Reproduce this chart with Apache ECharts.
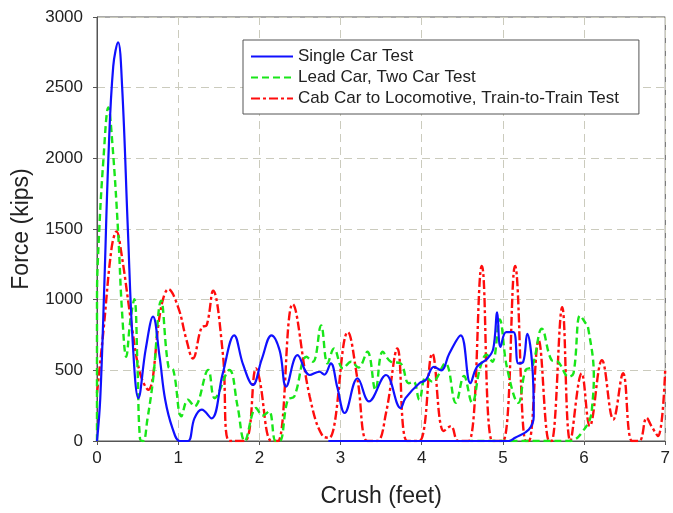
<!DOCTYPE html>
<html>
<head>
<meta charset="utf-8">
<script src="https://cdn.jsdelivr.net/npm/echarts@6/dist/echarts.min.js"></script>
<style>
  html, body { margin: 0; padding: 0; background: #fff; }
  #chart { width: 673px; height: 513px; }
</style>
</head>
<body>
<div id="chart"></div>
<script>
// crush (feet), force (kips)
const singleCar = [
  [0, 0], [0.04, 300], [0.09, 1100], [0.14, 2000], [0.2, 2650], [0.26, 2820], [0.31, 2500],
  [0.38, 1500], [0.44, 700], [0.51, 303], [0.6, 650], [0.69, 880], [0.77, 600], [0.84, 292],
  [0.93, 90], [1.02, 0], [1.12, 0], [1.2, 160], [1.29, 222], [1.41, 160], [1.55, 480],
  [1.69, 748], [1.8, 540], [1.92, 397], [2.03, 580], [2.15, 748], [2.25, 640], [2.33, 385],
  [2.47, 607], [2.62, 467], [2.74, 490], [2.8, 470], [2.88, 549], [2.96, 380], [3.05, 198],
  [3.21, 444], [3.35, 280], [3.56, 467], [3.74, 233], [3.8, 303], [3.97, 409], [4.05, 432],
  [4.15, 525], [4.24, 500], [4.34, 619], [4.48, 748], [4.6, 409], [4.68, 525], [4.81, 584],
  [4.88, 650], [4.93, 910], [4.97, 666], [5.04, 771], [5.13, 771], [5.19, 549], [5.25, 560],
  [5.3, 759], [5.36, 549], [5.38, 175], [5.32, 82], [5.15, 23], [5.07, 0], [4.5, 0],
  [3.9, 0], [2.85, 0]
];

const leadCar = [
  [0, 0], [0, 1000], [0.02, 1400], [0.08, 2000], [0.14, 2360], [0.19, 2100], [0.26, 1480],
  [0.31, 900], [0.36, 596], [0.41, 850], [0.46, 1004], [0.5, 500], [0.53, 14], [0.57, 0],
  [0.62, 150], [0.69, 432], [0.79, 993], [0.88, 525], [0.94, 502], [1.04, 175], [1.12, 292],
  [1.2, 245], [1.37, 502], [1.45, 303], [1.63, 502], [1.73, 250], [1.82, 0], [1.96, 233],
  [2.04, 180], [2.12, 210], [2.2, 0], [2.25, 0], [2.35, 292], [2.43, 315], [2.58, 596],
  [2.66, 561], [2.76, 818], [2.84, 549], [2.92, 654], [3.03, 514], [3.13, 561], [3.22, 520],
  [3.33, 631], [3.43, 362], [3.52, 631], [3.62, 561], [3.74, 549], [3.84, 409], [3.9, 420],
  [3.97, 292], [4.05, 455], [4.13, 420], [4.29, 550], [4.42, 270], [4.52, 460], [4.62, 270],
  [4.72, 520], [4.8, 610], [4.87, 560], [4.96, 860], [5.05, 520], [5.19, 270], [5.28, 502],
  [5.36, 525], [5.48, 794], [5.6, 572], [5.68, 560], [5.81, 455], [5.87, 480], [5.95, 888],
  [6.01, 841], [6.05, 800], [6.12, 455], [6.1, 250], [6.07, 152], [5.97, 58], [5.89, 12],
  [5.8, 0], [5.4, 0], [4.6, 0]
];

const cabCar = [
  [0, 338], [0.08, 783], [0.18, 1366], [0.24, 1483], [0.3, 1330], [0.43, 806], [0.53, 479],
  [0.63, 362], [0.79, 946], [0.88, 1074], [1.0, 946], [1.1, 720], [1.18, 584], [1.29, 806],
  [1.35, 818], [1.43, 1063], [1.55, 619], [1.63, 0], [1.82, 0], [1.96, 514], [2.0, 444],
  [2.15, 0], [2.23, 0], [2.41, 969], [2.62, 315], [2.78, 35], [2.86, 23], [3.09, 771],
  [3.21, 432], [3.33, 0], [3.45, 0], [3.56, 198], [3.7, 654], [3.82, 0], [3.97, 0],
  [4.13, 619], [4.27, 70], [4.36, 105], [4.45, 0], [4.58, 0], [4.74, 1238], [4.87, 0],
  [5.0, 0], [5.15, 1238], [5.28, 0], [5.32, 0], [5.44, 713], [5.57, 0], [5.6, 0],
  [5.73, 946], [5.83, 0], [5.97, 479], [6.07, 105], [6.22, 572], [6.36, 152], [6.48, 479],
  [6.59, 0], [6.68, 0], [6.77, 164], [6.83, 105], [6.91, 35], [7.0, 514]
];

const seriesNames = [
  'Single Car Test',
  'Lead Car, Two Car Test',
  'Cab Car to Locomotive, Train-to-Train Test'
];

const chart = echarts.init(document.getElementById('chart'));

const font = 'Liberation Sans, Arial, sans-serif';
const gridLine = { show: true, lineStyle: { color: '#cbcbbd', type: [8, 5], width: 1 } };

const option = {
  animation: false,
  backgroundColor: '#fff',
  grid: {
    left: 97, right: 5, top: 17, bottom: 67,
    show: true, borderColor: '#555', borderWidth: 1
  },
  legend: {
    left: 243, top: 40,
    orient: 'vertical',
    backgroundColor: '#fff',
    borderColor: '#555',
    borderWidth: 1,
    borderRadius: 0,
    padding: [8, 20, 7, 7],
    itemGap: 4,
    itemWidth: 42,
    itemHeight: 14,
    itemStyle: { opacity: 0 },
    textStyle: { fontFamily: font, fontSize: 17, color: '#222' },
    data: seriesNames
  },
  xAxis: {
    type: 'value',
    min: 0, max: 7, interval: 1,
    name: 'Crush (feet)',
    nameLocation: 'middle',
    nameGap: 44,
    nameTextStyle: { fontFamily: font, fontSize: 23, color: '#222' },
    axisLine: { lineStyle: { color: '#555' } },
    axisTick: { show: true, length: 4, lineStyle: { color: '#555' } },
    axisLabel: { fontFamily: font, fontSize: 17, color: '#222', margin: 9 },
    splitLine: gridLine
  },
  yAxis: {
    type: 'value',
    min: 0, max: 3000, interval: 500,
    name: 'Force (kips)',
    nameLocation: 'middle',
    nameGap: 64,
    nameTextStyle: { fontFamily: font, fontSize: 23, color: '#222' },
    axisLine: { show: true, lineStyle: { color: '#555' } },
    axisTick: { show: true, length: 4, lineStyle: { color: '#555' } },
    axisLabel: {
      fontFamily: font, fontSize: 17, color: '#222', margin: 14,
      formatter: v => String(v)
    },
    splitLine: gridLine
  },
  series: [
    {
      name: seriesNames[0],
      type: 'line',
      data: singleCar,
      smooth: 0.4,
      symbol: 'none',
      color: '#1010ff',
      lineStyle: { width: 2.2, color: '#1010ff' },
      z: 3
    },
    {
      name: seriesNames[1],
      type: 'line',
      data: leadCar,
      smooth: 0.4,
      symbol: 'none',
      color: '#19e619',
      lineStyle: { width: 2.4, color: '#19e619', type: [7, 4] },
      z: 2
    },
    {
      name: seriesNames[2],
      type: 'line',
      data: cabCar,
      smooth: 0.4,
      symbol: 'none',
      color: '#ff0d0d',
      lineStyle: { width: 2.4, color: '#ff0d0d', type: [9, 3, 3, 3] },
      z: 1
    }
  ]
};

chart.setOption(option);
</script>
</body>
</html>
